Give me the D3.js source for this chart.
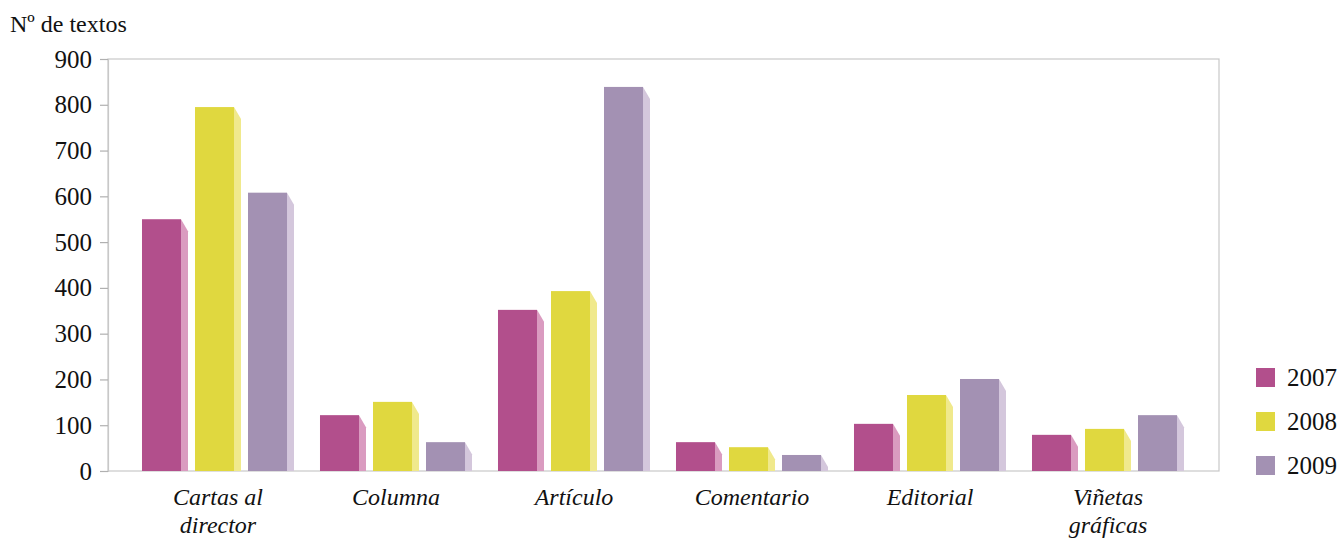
<!DOCTYPE html>
<html>
<head>
<meta charset="utf-8">
<script src="https://cdn.jsdelivr.net/npm/d3@7"></script>
<style>
  body { margin: 0; background: #fff; }
  text { font-family: "Liberation Serif", "DejaVu Serif", serif; fill: #111; }
</style>
</head>
<body>
<script>
// data
var categories = [["Cartas al", "director"], ["Columna"], ["Artículo"], ["Comentario"], ["Editorial"], ["Viñetas", "gráficas"]];
var years = ["2007", "2008", "2009"];
var v2007 = [550, 122, 352, 63, 103, 79];
var v2008 = [795, 151, 393, 52, 166, 92];
var v2009 = [608, 63, 839, 35, 201, 122];
var yTicks = [0, 100, 200, 300, 400, 500, 600, 700, 800, 900];

var front = ["#b24f8c", "#e0d83f", "#a391b3"];
var side = ["#da9bc0", "#f0e98c", "#d4c7dc"];

var W = 1339, H = 539;
var plot = {left: 108, right: 1219, top: 59, bottom: 471};

var svg = d3.select("body").append("svg")
    .attr("width", W)
    .attr("height", H);

var y = d3.scaleLinear()
    .domain([0, 900])
    .range([plot.bottom, plot.top]);

var x = d3.scaleBand()
    .domain(d3.range(categories.length))
    .range([129, 1197])
    .paddingInner(0.146)
    .paddingOuter(0.073);

var xs = d3.scaleBand()
    .domain(years)
    .range([0, x.bandwidth()])
    .paddingInner(0.132);

// frame
svg.append("rect")
    .attr("x", plot.left).attr("y", plot.top)
    .attr("width", plot.right - plot.left)
    .attr("height", plot.bottom - plot.top)
    .attr("fill", "none")
    .attr("stroke", "#c8c8c8")
    .attr("stroke-width", 1.2);

// y axis
var yAxis = d3.axisLeft(y).tickValues(yTicks).tickSize(8).tickPadding(8);
var gy = svg.append("g")
    .attr("transform", "translate(" + plot.left + ",0)")
    .call(yAxis);
gy.select(".domain").attr("stroke", "#c8c8c8").attr("stroke-width", 1.2);
gy.selectAll(".tick line").attr("stroke", "#b0b0b0").attr("stroke-width", 1.2);
gy.selectAll(".tick text")
    .style("font-family", "'Liberation Serif', serif")
    .style("font-size", "25px")
    .attr("fill", "#111");

svg.append("text")
    .attr("x", 10).attr("y", 32)
    .style("font-size", "24px")
    .text("Nº de textos");

// bars
var series = [v2007, v2008, v2009];
var sideW = 7, slant = 12;
series.forEach(function(vals, s) {
  var g = svg.append("g");
  vals.forEach(function(v, i) {
    var x0 = x(i) + xs(years[s]);
    var bw = xs.bandwidth() - sideW;
    var yt = y(v), yb = y(0);
    g.append("path")
        .attr("d", "M" + (x0 + bw) + "," + yt + "L" + (x0 + bw + sideW) + "," + Math.min(yt + slant, yb) +
              "L" + (x0 + bw + sideW) + "," + yb + "L" + (x0 + bw) + "," + yb + "Z")
        .attr("fill", side[s]);
    g.append("rect")
        .attr("x", x0).attr("y", yt)
        .attr("width", bw).attr("height", yb - yt)
        .attr("fill", front[s]);
  });
});

// category labels
categories.forEach(function(lines, i) {
  var cx = x(i) + x.bandwidth() / 2;
  var t = svg.append("text")
      .attr("x", cx)
      .attr("y", 505)
      .attr("text-anchor", "middle")
      .style("font-size", "24px")
      .style("font-style", "italic");
  lines.forEach(function(l, k) {
    t.append("tspan")
        .attr("x", cx)
        .attr("dy", k === 0 ? 0 : 28)
        .text(l);
  });
});

// legend
var leg = svg.append("g");
years.forEach(function(yr, s) {
  var ly = 368 + s * 44;
  leg.append("rect")
      .attr("x", 1256).attr("y", ly)
      .attr("width", 19).attr("height", 19)
      .attr("fill", front[s]);
  leg.append("text")
      .attr("x", 1287).attr("y", ly + 18)
      .style("font-size", "25px")
      .text(yr);
});
</script>
</body>
</html>
